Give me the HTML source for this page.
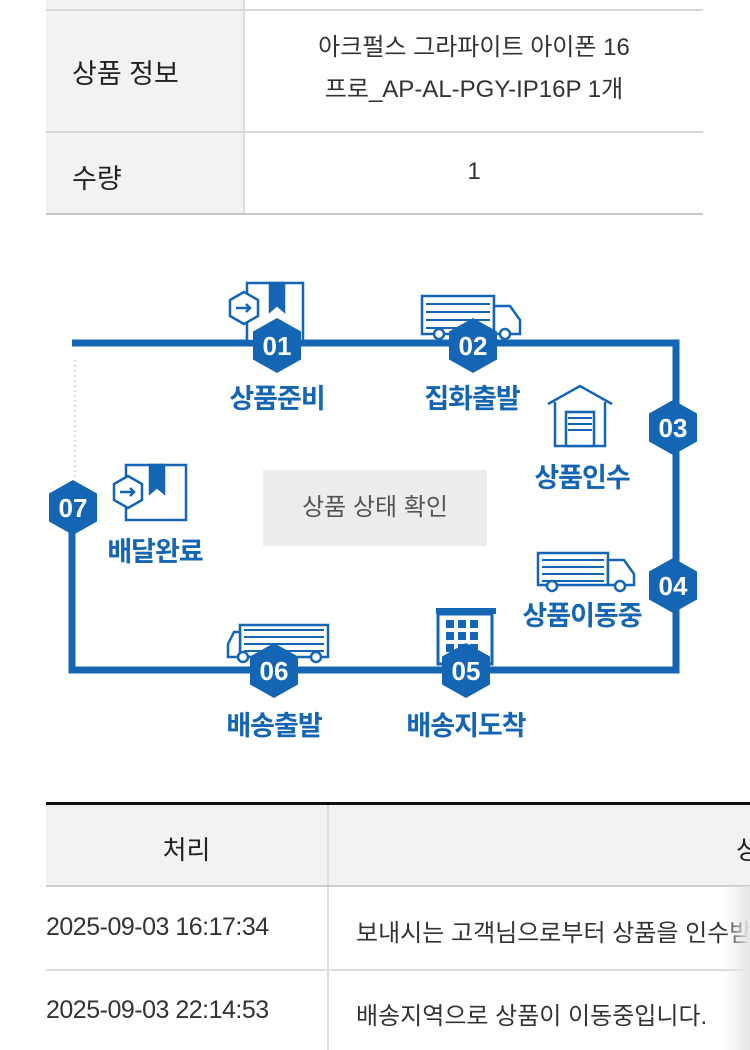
<!DOCTYPE html>
<html><head><meta charset="utf-8"><style>
body{margin:0;width:750px;height:1050px;background:#fff;position:relative;overflow:hidden;font-family:"Liberation Sans","Noto Sans CJK KR",sans-serif;color:#222}
.a{position:absolute}
.lbl{position:absolute;color:#1465b4;font-weight:bold;font-size:27px;transform:translateX(-50%);white-space:nowrap;letter-spacing:-1px}
</style></head><body>
<!-- top table -->
<div class="a" style="left:46px;top:0;width:198px;height:215px;background:#f2f2f2"></div>
<div class="a" style="left:243px;top:0;width:2px;height:215px;background:#ddd"></div>
<div class="a" style="left:46px;top:9px;width:657px;height:2px;background:#d8d8d8"></div>
<div class="a" style="left:46px;top:131px;width:657px;height:2px;background:#d8d8d8"></div>
<div class="a" style="left:46px;top:213px;width:657px;height:2px;background:#c8c8c8"></div>
<div class="a" style="left:72px;top:52px;font-size:27px">상품 정보</div>
<div class="a" style="left:72px;top:157px;font-size:27px">수량</div>
<div class="a" style="left:245px;width:458px;top:27px;text-align:center;font-size:24px;line-height:42px;color:#333">아크펄스 그라파이트 아이폰 16<br>프로_AP-AL-PGY-IP16P 1개</div>
<div class="a" style="left:245px;width:458px;top:158px;text-align:center;font-size:24px;color:#333">1</div>

<svg class="a" style="left:0;top:0" width="750" height="780">
<g fill="none" stroke="#1466b4" stroke-width="7">
<path d="M72 343H676V670H72V485"/>
</g>
<path d="M75 360V480" stroke="#e4e4e4" stroke-width="3" stroke-dasharray="2 3"/>
<g fill="#fff" stroke="#1466b4" stroke-width="2.5">
<rect x="247" y="283" width="56" height="58"/>
<path d="M270 283v28l7-6 7 6v-28z" fill="#1466b4"/>
<path d="M244 292l14 8v16l-14 8-14-8v-16z"/>
<path d="M236 308h14m-4-4l4 4-4 4"/>
<rect x="126" y="465" width="60" height="55"/>
<path d="M150 465v28l7-6 7 6v-28z" fill="#1466b4"/>
<path d="M128 476l14 8v16l-14 8-14-8v-16z"/>
<path d="M120 492h14m-4-4l4 4-4 4"/>
</g>
<g stroke="#1466b4" stroke-width="2.5" fill="#fff">
<path d="M422 296h72v38h-72z"/><path d="M494 306h16l10 14v14h-26z"/>
<path d="M426 304h64M426 312h64M426 320h64M426 328h64" stroke-width="2"/>
<circle cx="439" cy="334" r="5"/><circle cx="505" cy="334" r="5"/>
<path d="M538 553h70v32h-70z"/><path d="M608 560h16l10 14v11h-26z"/>
<path d="M542 560h62M542 567h62M542 574h62M542 581h62" stroke-width="2"/>
<circle cx="552" cy="586" r="5"/><circle cx="620" cy="586" r="5"/>
<path d="M240 625h88v32h-88z"/><path d="M240 632h-6l-6 12v13h12z"/>
<path d="M244 630h80M244 637h80M244 644h80M244 651h80" stroke-width="2"/>
<circle cx="243" cy="657" r="5"/><circle cx="316" cy="657" r="5"/>
<path d="M548 404l32-18 32 18M555 402v44h50v-44"/>
<rect x="566" y="412" width="28" height="34"/>
<path d="M568 418h24M568 424h24M568 430h24" stroke-width="2"/>
</g>
<rect x="436" y="608" width="60" height="6" fill="#1466b4"/>
<rect x="438" y="614" width="54" height="50" fill="#fff" stroke="#1466b4" stroke-width="3"/>
<g fill="#1466b4"><rect x="446" y="620" width="8" height="8"/><rect x="458" y="620" width="8" height="8"/><rect x="470" y="620" width="8" height="8"/><rect x="446" y="632" width="8" height="8"/><rect x="458" y="632" width="8" height="8"/><rect x="470" y="632" width="8" height="8"/><rect x="446" y="644" width="8" height="8"/><rect x="458" y="644" width="8" height="8"/><rect x="470" y="644" width="8" height="8"/></g>
<g fill="#1466b4">
<path d="M277 318l24 13.5v28l-24 13.5-24-13.5v-28z"/>
<path d="M473 318l24 13.5v28l-24 13.5-24-13.5v-28z"/>
<path d="M673 400l24 13.5v28l-24 13.5-24-13.5v-28z"/>
<path d="M673 558l24 13.5v28l-24 13.5-24-13.5v-28z"/>
<path d="M466 643l24 13.5v28l-24 13.5-24-13.5v-28z"/>
<path d="M274 643l24 13.5v28l-24 13.5-24-13.5v-28z"/>
<path d="M73 480l24 13.5v28l-24 13.5-24-13.5v-28z"/>
</g>
<g fill="#fff" font-family="Liberation Sans, sans-serif" font-weight="bold" font-size="26" text-anchor="middle">
<text x="277" y="355">01</text><text x="473" y="355">02</text><text x="673" y="437">03</text><text x="673" y="595">04</text><text x="466" y="680">05</text><text x="274" y="680">06</text><text x="73" y="517">07</text>
</g>
</svg>
<div class="lbl" style="left:277px;top:377px">상품준비</div>
<div class="lbl" style="left:472px;top:377px">집화출발</div>
<div class="lbl" style="left:582px;top:456px">상품인수</div>
<div class="lbl" style="left:582px;top:594px">상품이동중</div>
<div class="lbl" style="left:466px;top:704px">배송지도착</div>
<div class="lbl" style="left:274px;top:704px">배송출발</div>
<div class="lbl" style="left:155px;top:530px">배달완료</div>
<div class="a" style="left:263px;top:470px;width:224px;height:76px;background:#ececec;color:#555;font-size:24px;line-height:76px;text-align:center">상품 상태 확인</div>

<!-- bottom table -->
<div class="a" style="left:46px;top:802px;width:704px;height:3px;background:#111"></div>
<div class="a" style="left:46px;top:805px;width:704px;height:81px;background:#f2f2f2"></div>
<div class="a" style="left:327px;top:805px;width:2px;height:245px;background:#ddd"></div>
<div class="a" style="left:46px;top:885px;width:704px;height:2px;background:#ccc"></div>
<div class="a" style="left:46px;top:969px;width:704px;height:2px;background:#ddd"></div>
<div class="a" style="left:46px;width:281px;top:830px;text-align:center;font-size:26px">처리</div>
<div class="a" style="left:736px;top:830px;font-size:26px">상</div>
<div class="a" style="left:46px;top:913px;font-size:25px;color:#333;letter-spacing:-0.5px">2025-09-03 16:17:34</div>
<div class="a" style="left:356px;top:913px;font-size:24px;color:#333;white-space:nowrap">보내시는 고객님으로부터 상품을 인수받</div>
<div class="a" style="left:46px;top:996px;font-size:25px;color:#333;letter-spacing:-0.5px">2025-09-03 22:14:53</div>
<div class="a" style="left:356px;top:996px;font-size:24px;color:#333">배송지역으로 상품이 이동중입니다.</div>
<div class="a" style="left:724px;top:886px;width:26px;height:164px;background:linear-gradient(90deg,rgba(230,230,230,0),#e6e6e6)"></div>
</body></html>
